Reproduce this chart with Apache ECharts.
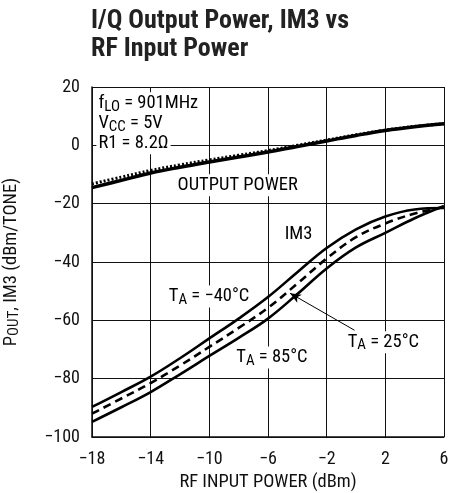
<!DOCTYPE html>
<html><head><meta charset="utf-8">
<script src="https://cdn.jsdelivr.net/npm/echarts@6/dist/echarts.min.js"></script>
<style>html,body{margin:0;padding:0;background:#fff}#c{width:455px;height:493px}</style>
</head><body><div id="c"></div>
<script>
const FONT = '"Liberation Sans Narrow","Roboto Condensed","Liberation Sans",sans-serif';
const xValues = [-18,-16,-14,-12,-10,-8,-6,-4,-2,0,2,4,6];
const outputPowerSolid  = [-14.5,-12,-9.5,-7.5,-5.7,-4,-2.3,-0.4,1.5,3.4,5.1,6.4,7.4];
const outputPowerDotted = [-13.2,-10.9,-8.6,-6.7,-5,-3.4,-1.8,0,1.8,3.6,5.2,6.5,7.4];
const im3Tm40 = [-89.7,-84.6,-79.3,-73,-66.2,-59.4,-52,-43.5,-35.2,-28.8,-24.4,-22,-21.5];
const im3T25  = [-92,-86.8,-81.5,-75.5,-69.1,-62.6,-55.7,-47.4,-38.8,-31.5,-26.8,-23.4,-21.2];
const im3T85  = [-94.8,-89.8,-84.6,-78.5,-72.2,-66,-59.4,-51,-42.2,-35,-30,-25,-20.8];
const xTicks = [-18,-14,-10,-6,-2,2,6];
const yTicks = [-100,-80,-60,-40,-20,0,20];

const zip = (ys) => xValues.map((x,i)=>[x, ys[i]]);
const fmt = v => String(v).replace('-', '\u2212');

const chart = echarts.init(document.getElementById('c'), null, {renderer:'canvas'});
const rich = {
  n: {fontSize: 18.5, fontFamily: FONT, color:'#111', verticalAlign:'middle', lineHeight: 22},
  s: {fontSize: 15, fontFamily: FONT, color:'#111', verticalAlign:'bottom', lineHeight: 14}
};
chart.setOption({
  animation:false,
  backgroundColor:'#fff',
  title:{
    text:'I/Q Output Power, IM3 vs\nRF Input Power',
    left: 91, top: 7, padding:0,
    textStyle:{fontFamily:FONT, fontWeight:'bold', fontSize:26, color:'#222', lineHeight:28}
  },
  grid:{left:92, right:11, top:87, bottom:56, containLabel:false, outerBoundsMode:'none'},
  xAxis:{
    type:'value', min:-18, max:6, interval:4,
    axisLine:{show:true, onZero:false, lineStyle:{color:'#111', width:1.5}},
    axisTick:{show:false},
    splitLine:{show:true, lineStyle:{color:'#111', width:1}},
    axisLabel:{formatter:fmt, fontFamily:FONT, fontSize:18, color:'#111', margin:13},
    name:'RF INPUT POWER (dBm)', nameLocation:'middle', nameGap:36,
    nameTextStyle:{fontFamily:FONT, fontSize:18.5, color:'#111'}
  },
  yAxis:{
    type:'value', min:-100, max:20, interval:20,
    axisLine:{show:true, onZero:false, lineStyle:{color:'#111', width:1.5}},
    axisTick:{show:false},
    splitLine:{show:true, lineStyle:{color:'#111', width:1}},
    axisLabel:{formatter:fmt, fontFamily:FONT, fontSize:18, color:'#111', margin:12},
    name:'{n|P}{s|OUT}{n|, IM3 (dBm/TONE)}', nameLocation:'middle', nameGap:70, nameRotate:90,
    nameTextStyle:{rich: rich}
  },
  series:[
    {type:'line', data:zip(outputPowerSolid), smooth:0.4, showSymbol:false, lineStyle:{color:'#000', width:3.5}},
    {type:'line', data:zip(outputPowerDotted), smooth:0.4, showSymbol:false, lineStyle:{color:'#000', width:3, type:[2,2]}},
    {type:'line', data:zip(im3Tm40), smooth:0.4, showSymbol:false, lineStyle:{color:'#000', width:2.6}},
    {type:'line', data:zip(im3T25), smooth:0.4, showSymbol:false, lineStyle:{color:'#000', width:2.6, type:[8,5]},
      markLine:{silent:true, symbol:['none','arrow'], symbolSize:[7,11],
        lineStyle:{color:'#000', width:1, type:'solid'}, label:{show:false},
        data:[[{coord:[-0.1,-63.4]},{coord:[-4.5,-50.7]}]]}},
    {type:'line', data:zip(im3T85), smooth:0.4, showSymbol:false, lineStyle:{color:'#000', width:2.6}}
  ]
});

const notes = [
  {x:-17.7, y:14.4, t:'{n|f}{s|LO}{n| = 901MHz}'},
  {x:-17.7, y:7.5, t:'{n|V}{s|CC}{n| = 5V}'},
  {x:-17.7, y:0.7, t:'{n|R1 = 8.2\u03A9}'},
  {x:-12.3, y:-13.7, t:'{n|OUTPUT POWER}'},
  {x:-5.0, y:-30.5, t:'{n|IM3}'},
  {x:-12.9, y:-51.8, t:'{n|T}{s|A}{n| = \u221240\u00B0C}'},
  {x:-8.3, y:-72.7, t:'{n|T}{s|A}{n| = 85\u00B0C}'},
  {x:-0.7, y:-67.5, t:'{n|T}{s|A}{n| = 25\u00B0C}'}
];
const graphic = notes.map(n => {
  const p = chart.convertToPixel({gridIndex:0}, [n.x, n.y]);
  return {type:'text', x:p[0], y:p[1], z:10,
    style:{text:n.t, rich:rich, verticalAlign:'middle', align:'left', backgroundColor:'#fff', padding:[0,2,0,2]}};
});
chart.setOption({graphic: graphic});
</script></body></html>
